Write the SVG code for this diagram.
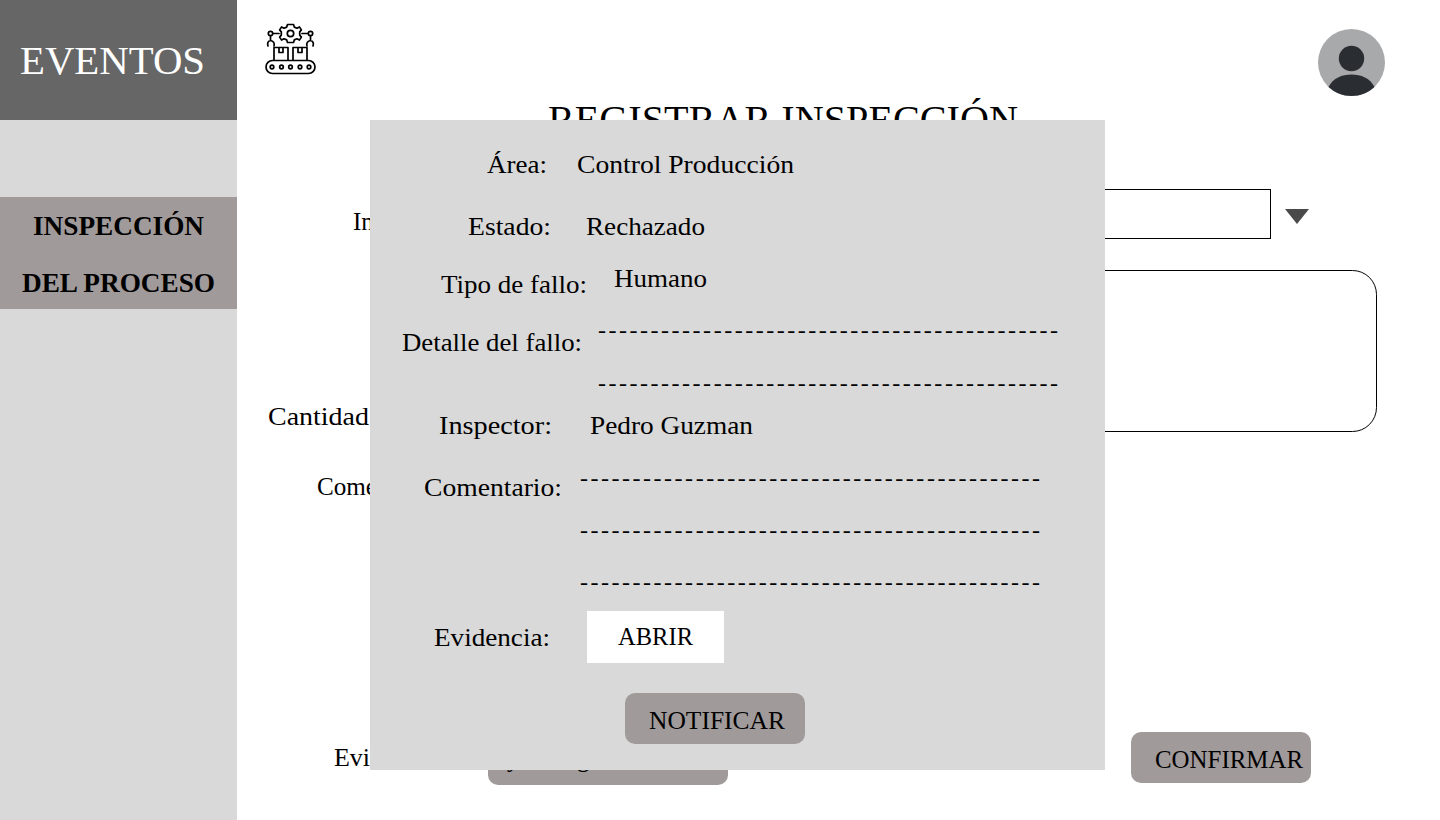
<svg xmlns="http://www.w3.org/2000/svg" width="1440" height="820" viewBox="0 0 1440 820">
<style>
text{font-family:"Liberation Serif","DejaVu Serif",serif;fill:#000}
.t{font-size:25px}
.d{font-size:24px}
.b{font-size:27px;font-weight:700}
.ic{fill:none;stroke:#000;stroke-width:1.700;stroke-linecap:round;stroke-linejoin:round}
</style>
<rect width="1440" height="820" fill="#fff"/>
<g id="sidebar">
<rect x="0" y="0" width="237" height="820" fill="#d9d9d9"/>
<rect x="0" y="0" width="237" height="120" fill="#666"/>
<text x="20" y="74" font-size="40" style="fill:#fff" textLength="185" lengthAdjust="spacingAndGlyphs">EVENTOS</text>
<rect x="0" y="197" width="237" height="112" fill="#a09a9a"/>
<text class="b" x="33" y="235" textLength="171" lengthAdjust="spacingAndGlyphs">INSPECCIÓN</text>
<text class="b" x="22" y="292" textLength="193" lengthAdjust="spacingAndGlyphs">DEL PROCESO</text>
</g>
<g id="logo" class="ic">
<rect x="266" y="60.500" width="49" height="13" rx="6.500"/>
<circle cx="272" cy="67" r="1.800"/><circle cx="281.500" cy="67" r="1.800"/><circle cx="290.500" cy="67" r="1.800"/><circle cx="300" cy="67" r="1.800"/><circle cx="309" cy="67" r="1.800"/>
<path d="M274 60V47.500H288V60M293 60V47.500H307V60M279 47.500V52.500H283V47.500M298 47.500V52.500H302V47.500"/>
<circle cx="290.500" cy="33.500" r="3.200"/>
<path d="M287.500 24.500h6l.8 2.600 2.700 1.100 2.400-1.300 2 3-1.700 2v3.200l1.700 2-2 3-2.400-1.300-2.700 1.100-.8 2.600h-6l-.8-2.600-2.700-1.100-2.400 1.300-2-3 1.700-2v-3.200l-1.700-2 2-3 2.400 1.300 2.700-1.100z"/>
<circle cx="270.500" cy="33.500" r="2.200"/><circle cx="310.500" cy="33.500" r="2.200"/>
<path d="M273 33.500H279M302 33.500H308M270.500 36V40.500M310.500 36V40.500M274 46C275 43 273 41 270.500 40.500 268 41 267 43 268 46M307 46C306 43 308 41 310.500 40.500 313 41 314 43 313 46"/>
</g>
<g id="avatar">
<circle cx="1351.500" cy="62.500" r="33.500" fill="#a8a9ab"/>
<circle cx="1351.500" cy="58.500" r="12.700" fill="#2a2d32"/>
<path d="M1328.500 87C1333 78 1342 74.500 1351.500 74.500S1370 78 1374.500 87C1368 93 1360 96 1351.500 96S1335 93 1328.500 87Z" fill="#2a2d32"/>
</g>
<g id="form">
<text x="548" y="133" font-size="40" textLength="470" lengthAdjust="spacingAndGlyphs">REGISTRAR INSPECCIÓN</text>
<text class="t" x="353" y="230">In</text>
<text class="t" x="268" y="425" textLength="101" lengthAdjust="spacingAndGlyphs">Cantidad</text>
<text class="t" x="317" y="495" textLength="60" lengthAdjust="spacingAndGlyphs">Come</text>
<text class="t" x="334" y="766" textLength="36" lengthAdjust="spacingAndGlyphs">Evi</text>
<rect x="1000" y="189.500" width="270.500" height="49" fill="#fff" stroke="#000"/>
<path d="M1285 209H1309L1297 224Z" fill="#4a4a4a"/>
<rect x="1000" y="270.500" width="376.500" height="161" rx="24" fill="#fff" stroke="#000"/>
<rect x="488" y="735" width="240" height="50" rx="10" fill="#a09a9a"/>
<text class="t" x="507" y="767">y</text>
<text class="t" x="577" y="767">g</text>
<rect x="1131" y="732" width="180" height="51" rx="10" fill="#a09a9a"/>
<text class="t" x="1155" y="768" textLength="148" lengthAdjust="spacingAndGlyphs">CONFIRMAR</text>
</g>
<g id="panel">
<rect x="370" y="120" width="735" height="650" fill="#d9d9d9"/>
<text class="t" x="487" y="173" textLength="60" lengthAdjust="spacingAndGlyphs">Área:</text>
<text class="t" x="577" y="173" textLength="217" lengthAdjust="spacingAndGlyphs">Control Producción</text>
<text class="t" x="468" y="235" textLength="83" lengthAdjust="spacingAndGlyphs">Estado:</text>
<text class="t" x="586" y="235" textLength="119" lengthAdjust="spacingAndGlyphs">Rechazado</text>
<text class="t" x="441" y="293" textLength="146" lengthAdjust="spacingAndGlyphs">Tipo de fallo:</text>
<text class="t" x="614" y="287" textLength="93" lengthAdjust="spacingAndGlyphs">Humano</text>
<text class="t" x="402" y="351" textLength="180" lengthAdjust="spacingAndGlyphs">Detalle del fallo:</text>
<text class="d" x="598" y="338" textLength="460">--------------------------------------------</text>
<text class="d" x="598" y="391" textLength="460">--------------------------------------------</text>
<text class="t" x="439" y="434" textLength="113" lengthAdjust="spacingAndGlyphs">Inspector:</text>
<text class="t" x="590" y="434" textLength="163" lengthAdjust="spacingAndGlyphs">Pedro Guzman</text>
<text class="t" x="424" y="496" textLength="138" lengthAdjust="spacingAndGlyphs">Comentario:</text>
<text class="d" x="580" y="486" textLength="460">--------------------------------------------</text>
<text class="d" x="580" y="538" textLength="460">--------------------------------------------</text>
<text class="d" x="580" y="590" textLength="460">--------------------------------------------</text>
<text class="t" x="434" y="646" textLength="116" lengthAdjust="spacingAndGlyphs">Evidencia:</text>
<rect x="587" y="611" width="137" height="52" fill="#fff"/>
<text class="t" x="618" y="645" textLength="75" lengthAdjust="spacingAndGlyphs">ABRIR</text>
<rect x="625" y="693" width="180" height="51" rx="10" fill="#a09a9a"/>
<text class="t" x="649" y="729" textLength="136" lengthAdjust="spacingAndGlyphs">NOTIFICAR</text>
</g>
</svg>
